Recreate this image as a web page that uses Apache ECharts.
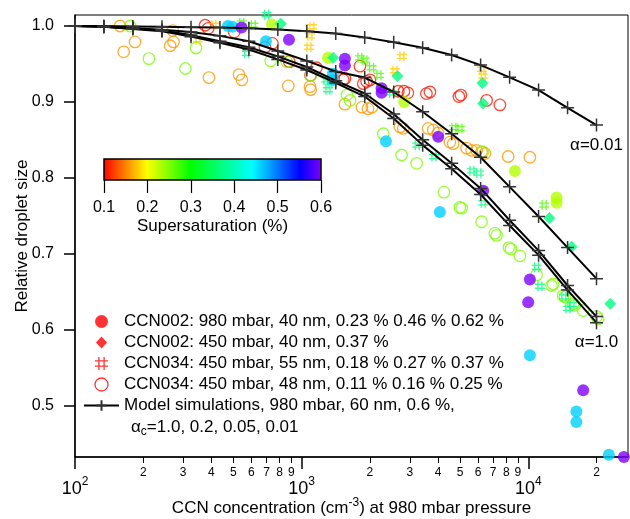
<!DOCTYPE html>
<html><head><meta charset="utf-8">
<script src="https://cdn.jsdelivr.net/npm/echarts@6/dist/echarts.min.js"></script>
<style>html,body{margin:0;padding:0;background:#fff}#c{width:630px;height:519px}</style>
</head><body><div id="c"></div>
<script>
const FONT = '"Liberation Sans", Arial, Helvetica, sans-serif';

// ---- Model simulations (CCN concentration, relative droplet size) ----
const modelN   = [100, 134, 180, 242, 325, 436, 585, 785, 1054, 1414, 1898, 2548, 3420, 4591, 6163, 8273, 11104, 14905, 20000];
const model001 = [1.000, 1.000, 0.9995, 0.999, 0.9985, 0.998, 0.997, 0.9955, 0.993, 0.990, 0.985, 0.9785, 0.9714, 0.9617, 0.9485, 0.9323, 0.9156, 0.8922, 0.8694];
const model005 = [1.000, 0.999, 0.997, 0.995, 0.992, 0.987, 0.980, 0.967, 0.954, 0.940, 0.932, 0.913, 0.887, 0.858, 0.827, 0.788, 0.749, 0.708, 0.667];
const model02  = [1.000, 0.999, 0.997, 0.994, 0.988, 0.980, 0.972, 0.960, 0.946, 0.928, 0.911, 0.884, 0.850, 0.819, 0.786, 0.744, 0.704, 0.658, 0.617];
const model10  = [1.000, 0.999, 0.996, 0.993, 0.986, 0.978, 0.969, 0.956, 0.942, 0.925, 0.907, 0.878, 0.843, 0.812, 0.778, 0.737, 0.698, 0.652, 0.609];

// ---- Measurements: [CCN concentration, relative droplet size, supersaturation %] ----
const ccn002_980_40 = [
  [473,1.000,0.46],[495,0.999,0.46],[696,0.980,0.46],[1374,0.937,0.46],[1374,0.929,0.46],[2355,0.848,0.46],
  [4074,0.755,0.46],[10164,0.566,0.46],[16303,0.492,0.46],[16303,0.478,0.46],[22670,0.435,0.46],
  [543,0.998,0.62],[879,0.982,0.62],[1552,0.957,0.62],[1552,0.948,0.62],[2253,0.918,0.62],[2253,0.912,0.62],
  [4005,0.854,0.62],[6325,0.783,0.62],[10164,0.666,0.62],[9991,0.636,0.62],[17469,0.520,0.62],[26408,0.432,0.62],
  [740,1.002,0.23],[1306,0.958,0.23],[2836,0.900,0.23],[8729,0.809,0.23],[13334,0.774,0.23],[13334,0.767,0.23]
];
const ccn002_450_40 = [
  [810,1.003,0.37],[1379,0.958,0.37],[2646,0.934,0.37],[6275,0.925,0.37],[6325,0.898,0.37],
  [12393,0.747,0.37],[15530,0.709,0.37],[22980,0.634,0.37]
];
const ccn034_450_55 = [
  [349,0.982,0.18],[410,1.001,0.18],[1110,0.999,0.18],[1088,0.987,0.18],[1077,0.972,0.18],
  [2580,0.941,0.18],[2770,0.960,0.18],[6243,0.943,0.18],[6325,0.934,0.18],
  [544,1.004,0.27],[612,1.001,0.27],[1808,0.958,0.27],[1902,0.955,0.27],[2036,0.945,0.27],[2193,0.935,0.27],
  [4697,0.866,0.27],[4993,0.865,0.27],[11750,0.764,0.27],
  [701,1.015,0.37],[572,0.964,0.37],[1280,0.929,0.37],[1333,0.926,0.37],[1306,0.916,0.37],[2495,0.912,0.37],
  [3236,0.843,0.37],[3834,0.828,0.37],[5640,0.809,0.37],[6055,0.806,0.37],[6325,0.767,0.37],[10880,0.682,0.37],
  [11252,0.657,0.37],[14360,0.643,0.37],[15575,0.633,0.37],[14954,0.628,0.37]
];
const ccn034_450_48 = [
  [375,1.001,0.11],[387,0.997,0.11],[504,0.992,0.11],[689,0.972,0.11],[743,0.977,0.11],[882,0.953,0.11],
  [1162,0.945,0.11],[1094,0.935,0.11],[1552,0.931,0.11],[1526,0.929,0.11],[1808,0.947,0.11],[1870,0.924,0.11],
  [1935,0.927,0.11],[2001,0.929,0.11],[2668,0.914,0.11],[2827,0.914,0.11],[2943,0.912,0.11],[3552,0.911,0.11],
  [3681,0.913,0.11],[4941,0.907,0.11],[5043,0.909,0.11],[6548,0.902,0.11],[7494,0.896,0.11],
  [158,1.000,0.16],[184,0.979,0.16],[164,0.966,0.16],[270,0.994,0.16],[272,0.979,0.16],[263,0.974,0.16],
  [390,0.932,0.16],[529,0.936,0.16],[545,0.929,0.16],[873,0.921,0.16],[1088,0.920,0.16],[1096,0.916,0.16],
  [1552,0.897,0.16],[1845,0.893,0.16],[1961,0.891,0.16],[2042,0.893,0.16],[2715,0.867,0.16],[2807,0.865,0.16],
  [3618,0.865,0.16],[3806,0.863,0.16],[3993,0.859,0.16],[4510,0.847,0.16],[4663,0.845,0.16],[5343,0.839,0.16],
  [5622,0.836,0.16],[5915,0.836,0.16],[6223,0.834,0.16],[6436,0.832,0.16],[8153,0.828,0.16],[10164,0.827,0.16],
  [175,1.000,0.25],[212,0.957,0.25],[342,0.971,0.25],[307,0.944,0.25],[730,0.954,0.25],[859,0.953,0.25],
  [1099,0.935,0.25],[1634,0.902,0.25],[1585,0.909,0.25],[2291,0.858,0.25],[2762,0.830,0.25],[3217,0.819,0.25],
  [4243,0.781,0.25],[4993,0.761,0.25],[5079,0.760,0.25],[6223,0.742,0.25],[7123,0.727,0.25],[7247,0.724,0.25],
  [8211,0.708,0.25],[8381,0.706,0.25],[9183,0.697,0.25],[10880,0.672,0.25],[12666,0.658,0.25],[12873,0.660,0.25],
  [14255,0.645,0.25],[14504,0.643,0.25],[15783,0.634,0.25],[16058,0.632,0.25],[17469,0.625,0.25],
  [20011,0.617,0.25],[20337,0.614,0.25],[6305,0.834,0.25]
];

// ---- Axes / ticks ----
const xMin = 100, xMax = 27542;
const yMin = 0.432, yMax = 1.0145;
const yTicks = [0.5, 0.6, 0.7, 0.8, 0.9, 1.0];
const xMajorTicks = [100, 1000, 10000];
const xMinorTicks = [200,300,400,500,600,700,800,900,2000,3000,4000,5000,6000,7000,8000,9000,20000];
const ssTicks = [0.1, 0.2, 0.3, 0.4, 0.5, 0.6];

// ---- Colour scale (supersaturation) ----
const ssStops  = [0.1, 0.2, 0.3, 0.44, 0.55, 0.6];
const ssColors = ['#ff0000', '#ffff00', '#00ff00', '#00ffff', '#0000ff', '#8000ff'];

function hex2rgb(h){ return [parseInt(h.slice(1,3),16), parseInt(h.slice(3,5),16), parseInt(h.slice(5,7),16)]; }
function colorAt(s){
  if (s <= ssStops[0]) return ssColors[0];
  if (s >= ssStops[ssStops.length-1]) return ssColors[ssColors.length-1];
  for (let i = 0; i < ssStops.length-1; i++) {
    if (s <= ssStops[i+1]) {
      const t = (s - ssStops[i]) / (ssStops[i+1] - ssStops[i]);
      const a = hex2rgb(ssColors[i]), b = hex2rgb(ssColors[i+1]);
      return 'rgb(' + a.map((v,k)=>Math.round(v + (b[k]-v)*t)).join(',') + ')';
    }
  }
}
const gradStops = ssStops.map((s,i)=>({offset:(s-ssStops[0])/(ssStops[ssStops.length-1]-ssStops[0]), color:ssColors[i]}));

const HASH = 'path://M3,0L3,10M7,0L7,10M0,3L10,3M0,7L10,7';
const PLUS = 'path://M0,5L10,5M5,0L5,10';
// legend diamond: invisible move-to corners keep the icon box 35x13 so the diamond is not stretched
const LEG_DIAMOND = 'path://M0,0M35,13M17.5,0.5L23,6.5L17.5,12.5L12,6.5Z';

const NAMES = [
  'CCN002: 980 mbar, 40 nm, 0.23 % 0.46 % 0.62 %',
  'CCN002: 450 mbar, 40 nm, 0.37 %',
  'CCN034: 450 mbar, 55 nm, 0.18 % 0.27 % 0.37 %',
  'CCN034: 450 mbar, 48 nm, 0.11 % 0.16 % 0.25 %',
  'Model simulations, 980 mbar, 60 nm, 0.6 %,'
];

function filled(arr){ return arr.map(d=>({value:[d[0],d[1]], itemStyle:{color:colorAt(d[2])}})); }
function hollow(arr){ return arr.map(d=>({value:[d[0],d[1]], itemStyle:{color:'rgba(0,0,0,0)', borderColor:colorAt(d[2]), borderWidth:1.3}})); }

function modelSeries(name, ys, label, dist){
  const data = modelN.map((n,i)=>[n, ys[i]]);
  if (label) {
    const last = data.length-1;
    data[last] = {value:data[last], label:{show:true, position:'bottom', distance:dist, formatter:label,
      fontFamily:FONT, fontSize:17, color:'#000'}};
  }
  return {
    type:'line', name:name, data:data, xAxisIndex:0, yAxisIndex:0,
    symbol:PLUS, symbolSize:13, showAllSymbol:true, clip:false, z:5,
    lineStyle:{color:'#000', width:2},
    itemStyle:{color:'#333', borderColor:'#333', borderWidth:1.5},
    emphasis:{disabled:true}
  };
}

const option = {
  animation:false,
  backgroundColor:'#fff',
  title:{
    text:'{g|α}{s|c}{g|=1.0, 0.2, 0.05, 0.01}',
    left:126, top:411,
    textStyle:{fontWeight:'normal', rich:{
      g:{fontFamily:FONT, fontSize:17, fontWeight:'normal', color:'#000', lineHeight:22},
      s:{fontFamily:FONT, fontSize:12, fontWeight:'normal', color:'#000', lineHeight:10, verticalAlign:'bottom'}
    }}
  },
  legend:{
    orient:'vertical', left:78, top:308, itemWidth:35, itemHeight:13, itemGap:4,
    selectedMode:false, symbolKeepAspect:true,
    textStyle:{fontFamily:FONT, fontSize:17, color:'#000', lineHeight:17},
    data:[
      {name:NAMES[0], icon:'circle', itemStyle:{color:'#ff0000', borderWidth:0}},
      {name:NAMES[1], icon:LEG_DIAMOND, itemStyle:{color:'#ff0000', borderWidth:0}},
      {name:NAMES[2], icon:HASH, itemStyle:{color:'rgba(0,0,0,0)', borderColor:'#ff0000', borderWidth:1.3}},
      {name:NAMES[3], icon:'circle', itemStyle:{color:'rgba(0,0,0,0)', borderColor:'#ff0000', borderWidth:1.3}},
      {name:NAMES[4]}
    ]
  },
  grid:[
    {left:75, right:2, top:15, bottom:62, show:true, borderColor:'#000', borderWidth:1,
     backgroundColor:'rgba(0,0,0,0)', containLabel:false, outerBoundsMode:'none'},
    {left:104, width:217, top:159, height:21, containLabel:false, outerBoundsMode:'none'}
  ],
  xAxis:[
    { // data axis (log)
      type:'log', logBase:10, min:xMin, max:xMax, gridIndex:0, position:'bottom',
      axisLine:{show:true, lineStyle:{color:'#000', width:1.5}},
      axisTick:{show:false}, axisLabel:{show:false}, splitLine:{show:false},
      name:'CCN concentration (cm{s|-3}) at 980 mbar pressure',
      nameLocation:'middle', nameGap:40, nameMoveOverlap:false,
      nameTextStyle:{fontFamily:FONT, fontSize:17, color:'#000', lineHeight:22,
        rich:{s:{fontFamily:FONT, fontSize:12, color:'#000', lineHeight:10, verticalAlign:'top'}}}
    },
    { // minor decade ticks (exponent space)
      type:'value', min:Math.log10(xMin), max:Math.log10(xMax), gridIndex:0, position:'bottom',
      axisLine:{show:false}, splitLine:{show:false},
      axisTick:{show:true, customValues:xMinorTicks.map(Math.log10), length:6, lineStyle:{color:'#000', width:1}},
      axisLabel:{show:true, customValues:xMinorTicks.map(Math.log10), margin:10, fontFamily:FONT, fontSize:12, color:'#000',
        formatter:v=>String(Math.round(Math.pow(10, v - Math.floor(v + 1e-9))))}
    },
    { // major decade ticks
      type:'value', min:Math.log10(xMin), max:Math.log10(xMax), gridIndex:0, position:'bottom',
      axisLine:{show:false}, splitLine:{show:false},
      axisTick:{show:true, customValues:xMajorTicks.map(Math.log10), length:12, lineStyle:{color:'#000', width:1.5}},
      axisLabel:{show:true, customValues:xMajorTicks.map(Math.log10), margin:19,
        formatter:v=>'{m|10}{s|' + Math.round(v) + '}',
        rich:{
          m:{fontFamily:FONT, fontSize:18, color:'#000', lineHeight:26},
          s:{fontFamily:FONT, fontSize:12, color:'#000', lineHeight:8, verticalAlign:'top'}
        }}
    },
    { // colour bar axis
      type:'value', min:ssTicks[0], max:ssTicks[ssTicks.length-1], gridIndex:1, position:'bottom',
      axisLine:{show:false}, splitLine:{show:false},
      axisTick:{show:true, customValues:ssTicks, length:13, lineStyle:{color:'#000', width:1.2}},
      axisLabel:{show:true, customValues:ssTicks, margin:20, fontFamily:FONT, fontSize:16, color:'#000',
        formatter:v=>v.toFixed(1)},
      name:'Supersaturation (%)', nameLocation:'middle', nameGap:38, nameMoveOverlap:false,
      nameTextStyle:{fontFamily:FONT, fontSize:17, color:'#000'}
    }
  ],
  yAxis:[
    {
      type:'value', min:yMin, max:yMax, gridIndex:0,
      axisLine:{show:true, lineStyle:{color:'#000', width:1.5}}, splitLine:{show:false},
      axisTick:{show:true, customValues:yTicks, length:11, lineStyle:{color:'#000', width:1.5}},
      axisLabel:{show:true, customValues:yTicks, margin:21, fontFamily:FONT, fontSize:16, color:'#000',
        formatter:v=>v.toFixed(1)},
      name:'Relative droplet size', nameLocation:'middle', nameGap:44, nameMoveOverlap:false,
      nameTextStyle:{fontFamily:FONT, fontSize:17, color:'#000'}
    },
    {type:'value', min:0, max:1, gridIndex:1, show:false}
  ],
  series:[
    {
      type:'custom', xAxisIndex:3, yAxisIndex:1, silent:true, z:1,
      data:[[ssTicks[0], ssTicks[ssTicks.length-1]]],
      renderItem:(params, api)=>{
        const p0 = api.coord([api.value(0), 1]);
        const p1 = api.coord([api.value(1), 0]);
        return {type:'rect', shape:{x:p0[0], y:p0[1], width:p1[0]-p0[0], height:p1[1]-p0[1]},
          style:{fill:new echarts.graphic.LinearGradient(0,0,1,0,gradStops), stroke:'#000', lineWidth:1.5}};
      }
    },
    {type:'scatter', name:NAMES[3], xAxisIndex:0, yAxisIndex:0, symbol:'circle', symbolSize:11.5, clip:false, z:2,
      itemStyle:{color:'rgba(0,0,0,0)', borderColor:'#ff0000', borderWidth:1.3}, data:hollow(ccn034_450_48)},
    {type:'scatter', name:NAMES[2], xAxisIndex:0, yAxisIndex:0, symbol:HASH, symbolSize:10, clip:false, z:2,
      itemStyle:{color:'rgba(0,0,0,0)', borderColor:'#ff0000', borderWidth:1.4}, data:hollow(ccn034_450_55)},
    {type:'scatter', name:NAMES[0], xAxisIndex:0, yAxisIndex:0, symbol:'circle', symbolSize:12, clip:false, z:3,
      itemStyle:{color:'#ff0000'}, data:filled(ccn002_980_40)},
    {type:'scatter', name:NAMES[1], xAxisIndex:0, yAxisIndex:0, symbol:'diamond', symbolSize:12, symbolKeepAspect:true, clip:false, z:3,
      itemStyle:{color:'#ff0000'}, data:filled(ccn002_450_40)},
    modelSeries(NAMES[4], model10, 'α=1.0', 4),
    modelSeries('α=0.2', model02, null, 0),
    modelSeries('α=0.05', model005, null, 0),
    modelSeries('α=0.01', model001, 'α=0.01', 4)
  ]
};

const chart = echarts.init(document.getElementById('c'), null, {renderer:'canvas', width:630, height:519});
chart.setOption(option);
</script>
</body></html>
